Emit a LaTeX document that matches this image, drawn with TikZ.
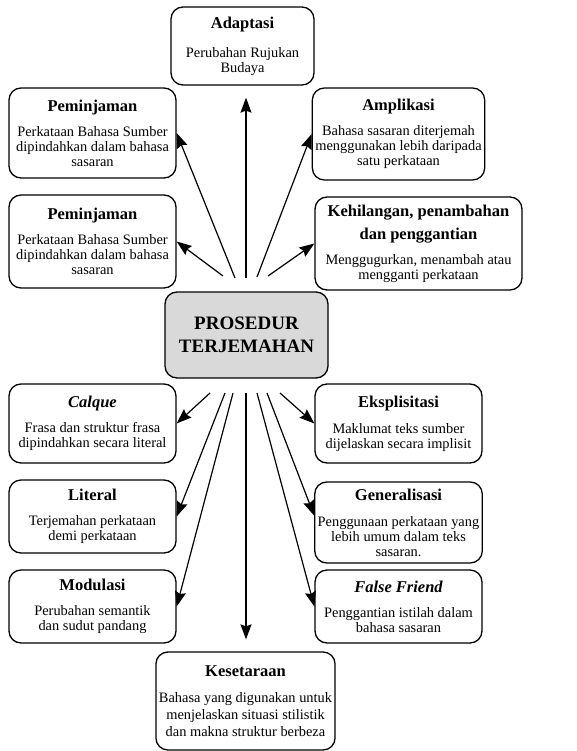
\documentclass[tikz,border=0pt]{standalone}
\usepackage{fontspec}
\setmainfont{Liberation Serif}
\usepackage{tikz}
\usetikzlibrary{positioning, arrows.meta}
\newcommand{\tajuk}[1]{{\fontsize{16.5}{20}\selectfont\bfseries #1}}
\tikzset{
  kotak/.style={draw, line width=1.3pt, rounded corners=12pt, align=center,
                font=\fontsize{14.4}{15}\selectfont, inner sep=3pt},
  kiri/.style={kotak, minimum width=167pt},
  pusat/.style={kotak, fill=black!15, minimum width=163pt, minimum height=86pt,
                font=\fontsize{19}{23}\selectfont\bfseries},
  anak/.style={-{Stealth[length=15pt, width=11pt, inset=2pt]}, line width=1.2pt},
}
\begin{document}
\begin{tikzpicture}[x=1pt, y=-1pt]
        \useasboundingbox (0,0) rectangle (577,751);
        \node[pusat](pst) at (246.5,335){PROSEDUR\\TERJEMAHAN};
        \node[kotak, minimum width=143pt, minimum height=78pt](adp) at (242.5,46)
          {\tajuk{Adaptasi}\\[14pt]Perubahan Rujukan\\Budaya};
        \node[kiri, minimum height=90pt](pemA) at (92.5,133)
          {\tajuk{Peminjaman}\\[10pt]Perkataan Bahasa Sumber\\dipindahkan dalam bahasa\\sasaran};
        \node[kiri, minimum height=92pt](amp) at (398.5,134)
          {\tajuk{Amplikasi}\\[10pt]Bahasa sasaran diterjemah\\menggunakan lebih daripada\\satu perkataan};
        \node[kiri, minimum height=93pt](pemB) at (92.5,241.5)
          {\tajuk{Peminjaman}\\[10pt]Perkataan Bahasa Sumber\\dipindahkan dalam bahasa\\sasaran};
        \node[kotak, minimum width=207pt, minimum height=93pt](hil) at (418.5,243.5)
          {\tajuk{Kehilangan, penambahan}\\[7pt]\tajuk{dan penggantian}\\[10pt]Menggugurkan, menambah atau\\mengganti perkataan};
        \node[kiri, minimum height=79pt](clq) at (92.5,423.5)
          {\tajuk{\itshape Calque}\\[10pt]Frasa dan struktur frasa\\dipindahkan secara literal};
        \node[kiri, minimum height=79pt](eks) at (398.5,423.5)
          {\tajuk{Eksplisitasi}\\[11pt]Maklumat teks sumber\\dijelaskan secara implisit};
        \node[kiri, minimum height=73pt](lit) at (92.5,516.5)
          {\tajuk{Literal}\\[10pt]Terjemahan perkataan\\demi perkataan};
        \node[kiri, minimum height=81pt](gen) at (398.5,522.5)
          {\tajuk{Generalisasi}\\[11pt]Penggunaan perkataan yang\\lebih umum dalam teks\\sasaran.};
        \node[kiri, minimum height=73pt](mod) at (92.5,606.5)
          {\tajuk{Modulasi}\\[10pt]Perubahan semantik\\dan sudut pandang};
        \node[kiri, minimum height=73pt](ff) at (398.5,606.5)
          {\tajuk{\itshape False Friend}\\[10pt]Penggantian istilah dalam\\bahasa sasaran};
        \node[kotak, minimum width=179pt, minimum height=98pt](kes) at (245.5,701)
          {\tajuk{Kesetaraan}\\[11pt]Bahasa yang digunakan untuk\\[2pt]menjelaskan situasi stilistik\\[2pt]dan makna struktur berbeza};
        % titik mula anak panah
        \coordinate (u1) at (223,276); \coordinate (u2) at (235,278);
        \coordinate (u3) at (246,278); \coordinate (u4) at (257,277);
        \coordinate (u5) at (268,276);
        \coordinate (b1) at (210,393); \coordinate (b2) at (225,393);
        \coordinate (b3) at (233,393); \coordinate (b4) at (246,393);
        \coordinate (b5) at (257,393); \coordinate (b6) at (267,393);
        \coordinate (b7) at (280,393);
        \draw[anak](u1)--(pemB.east); \draw[anak](u2)--(pemA.east);
        \draw[anak, shorten >=12pt](u3)--(u3 |- adp.south);
        \draw[anak](u4)--(amp.west); \draw[anak](u5)--(hil.west);
        \draw[anak](b1)--(clq.east); \draw[anak](b2)--(lit.east);
        \draw[anak](b3)--(mod.east);
        \draw[anak, shorten >=12pt](b4)--(b4 |- kes.north);
        \draw[anak](b5)--(ff.west); \draw[anak](b6)--([yshift=7pt]gen.west);
        \draw[anak](b7)--(eks.west);
      \end{tikzpicture}
\end{document}
